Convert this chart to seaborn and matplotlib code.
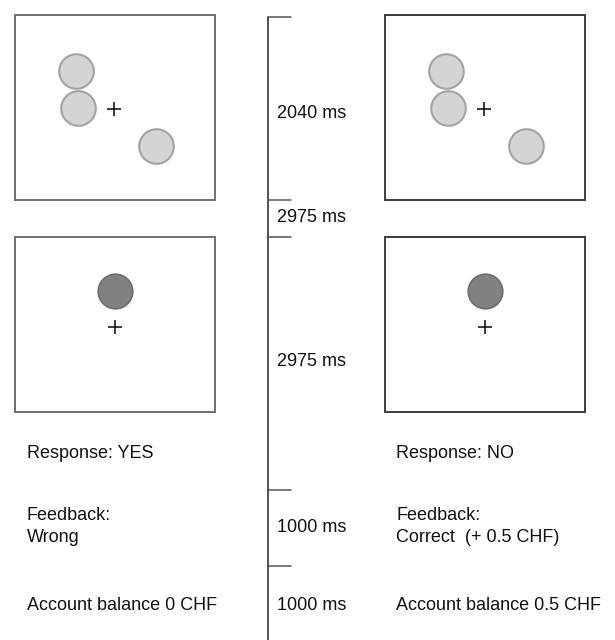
import matplotlib
matplotlib.use("Agg")
import matplotlib.pyplot as plt
import matplotlib.patches as mpatches
import seaborn as sns
import pandas as pd

# Panel (box) positions in pixels: left column and right column
box_left = [15, 385]
box_top = [15, 237]
box_w = 200
box_h = [185, 175]

# Search display: grey discs relative to the box corner
search_dx = [61, 63, 141]
search_dy = [56, 93, 131]
search_fix = (99, 94)

# Probe display: one dark disc above fixation
probe_dx = [100]
probe_dy = [54]
probe_fix = (100, 90)

# Timeline
tick_y = [17, 200, 237, 490, 566]
dur_labels = ["2040 ms", "2975 ms", "2975 ms", "1000 ms", "1000 ms"]
dur_y = [113, 218, 361, 527, 606]

# Response / feedback text
response = ["Response: YES", "Response: NO"]
feedback_head = ["Feedback:", "Feedback:"]
feedback = ["Wrong", "Correct  (+ 0.5 CHF)"]
balance = ["Account balance 0 CHF", "Account balance 0.5 CHF"]
text_x = [27, 396]

sns.set_style("white")
plt.rcParams['font.family'] = ['Liberation Sans', 'DejaVu Sans']

fig = plt.figure(figsize=(6.15, 6.40), dpi=100)
ax = fig.add_axes([0, 0, 1, 1])
ax.set_xlim(0, 615)
ax.set_ylim(640, 0)
ax.axis("off")

edge_cols = ["#707070", "#3c3c3c"]
fs = 13

for col, bx in enumerate(box_left):
    # boxes
    for row, by in enumerate(box_top):
        ax.add_patch(mpatches.Rectangle((bx, by), box_w, box_h[row], fill=False,
                                        edgecolor=edge_cols[col], linewidth=1.4))
    # search discs
    df = pd.DataFrame({"x": [bx + d for d in search_dx], "y": [box_top[0] + d for d in search_dy]})
    sns.scatterplot(data=df, x="x", y="y", s=620, color="#d4d4d4", edgecolor="#a3a3a3",
                    linewidth=1.5, ax=ax, legend=False)
    # probe disc
    df2 = pd.DataFrame({"x": [bx + d for d in probe_dx], "y": [box_top[1] + d for d in probe_dy]})
    sns.scatterplot(data=df2, x="x", y="y", s=620, color="#818181", edgecolor="#6e6e6e",
                    linewidth=1.2, ax=ax, legend=False)
    # fixation crosses
    fx = [bx + search_fix[0], bx + probe_fix[0]]
    fy = [box_top[0] + search_fix[1], box_top[1] + probe_fix[1]]
    ax.plot(fx, fy, linestyle="none", marker="+", markersize=9.5, markeredgewidth=1.15, color="#111111")

    tx = text_x[col]
    ax.text(tx, 453, response[col], fontsize=fs, va="center", ha="left", color="#111111")
    ax.text(tx, 515, feedback_head[col], fontsize=fs, va="center", ha="left", color="#111111")
    ax.text(tx, 538, feedback[col], fontsize=fs, va="center", ha="left", color="#111111")
    ax.text(tx, 606, balance[col], fontsize=fs, va="center", ha="left", color="#111111")

# timeline
line_x = 268
ax.plot([line_x, line_x], [tick_y[0], 640], color="#333333", linewidth=1.2)
for ty in tick_y:
    ax.plot([line_x, 291], [ty, ty], color="#555555", linewidth=1.1)
for lab, ly in zip(dur_labels, dur_y):
    ax.text(277, ly, lab, fontsize=fs, va="center", ha="left", color="#111111")

fig.savefig("out.png", dpi=100)
